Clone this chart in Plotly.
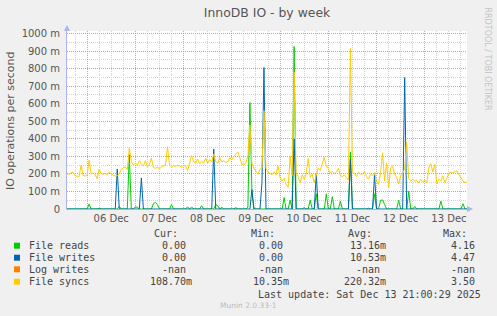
import plotly.graph_objects as go
import pandas as pd

# ---------------- data (milli-operations per second, hourly) ----------------
start_time = "2025-12-05 14:00"
end_time = "2025-12-13 21:00"
times = pd.date_range(start_time, end_time, freq="h")

file_syncs = [
    200, 198, 205, 210, 190, 188, 185, 250, 192, 188,
    190, 278, 200, 205, 195, 172, 228, 200, 198, 205,
    195, 210, 200, 192, 188, 190, 200, 225, 235, 240,
    225, 348, 270, 250, 262, 248, 275, 255, 245, 275,
    240, 255, 290, 235, 232, 238, 228, 240, 245, 250,
    355, 250, 240, 248, 242, 250, 245, 238, 250, 244,
    220, 262, 305, 268, 260, 285, 258, 270, 262, 290,
    262, 282, 268, 313, 270, 262, 292, 268, 275, 265,
    270, 292, 280, 300, 310, 325, 290, 255, 250, 265,
    300, 480, 260, 230, 215, 198, 225, 235, 560, 230,
    210, 200, 195, 210, 195, 245, 180, 160, 175, 140,
    123, 300, 190, 780, 200, 185, 150, 195, 170, 200,
    288, 180, 198, 150, 200, 235, 220, 263, 295, 245,
    230, 205, 215, 200, 210, 232, 190, 185, 195, 180,
    165, 914, 210, 200, 185, 210, 200, 198, 213, 185,
    170, 198, 190, 207, 160, 140, 207, 320, 160, 263,
    120, 235, 245, 200, 180, 142, 190, 200, 230, 380,
    175, 160, 170, 158, 162, 150, 170, 155, 165, 150,
    235, 258, 210, 254, 142, 170, 160, 189, 151, 175,
    205, 210, 205, 212, 217, 195, 175, 160, 150, 155,
]

file_reads = [
    0, 0, 0, 0, 0, 0, 0, 0, 0, 0,
    0, 28, 0, 0, 0, 0, 5, 0, 0, 0,
    0, 0, 0, 0, 0, 0, 15, 0, 0, 0,
    0, 310, 0, 0, 12, 10, 0, 0, 0, 0,
    0, 0, 0, 30, 38, 25, 0, 0, 0, 0,
    0, 0, 25, 0, 0, 0, 0, 0, 0, 0,
    12, 0, 12, 0, 0, 0, 0, 19, 0, 0,
    0, 0, 0, 0, 25, 18, 0, 10, 0, 0,
    0, 0, 0, 0, 8, 0, 0, 0, 0, 0,
    10, 606, 100, 0, 0, 0, 0, 0, 0, 0,
    0, 0, 0, 0, 0, 0, 0, 0, 65, 0,
    0, 50, 0, 926, 0, 0, 0, 0, 8, 0,
    0, 50, 0, 0, 86, 0, 0, 0, 0, 86,
    0, 0, 70, 0, 0, 0, 45, 0, 0, 0,
    0, 325, 0, 0, 0, 0, 0, 0, 0, 0,
    5, 0, 0, 86, 0, 0, 49, 52, 26, 0,
    0, 0, 0, 0, 0, 49, 0, 0, 0, 0,
    101, 0, 0, 15, 0, 0, 0, 0, 0, 0,
    0, 0, 0, 0, 0, 0, 45, 0, 0, 0,
    0, 0, 0, 0, 0, 0, 0, 30, 0, 0,
]

file_writes = [
    0, 0, 0, 0, 0, 0, 0, 0, 0, 0,
    0, 0, 0, 0, 0, 0, 0, 0, 0, 0,
    0, 0, 0, 0, 0, 228, 0, 0, 0, 0,
    0, 0, 0, 0, 0, 0, 0, 177, 0, 0,
    0, 0, 0, 0, 0, 0, 0, 0, 0, 0,
    0, 0, 0, 0, 0, 0, 0, 0, 0, 0,
    0, 0, 0, 0, 0, 0, 0, 0, 0, 0,
    0, 0, 0, 342, 0, 0, 0, 0, 0, 0,
    0, 0, 0, 0, 0, 0, 0, 0, 0, 0,
    0, 0, 110, 0, 0, 0, 0, 150, 806, 0,
    0, 0, 0, 0, 0, 0, 0, 0, 0, 0,
    0, 0, 0, 400, 0, 0, 0, 0, 0, 0,
    0, 0, 0, 0, 200, 0, 0, 0, 0, 0,
    0, 0, 0, 0, 0, 0, 0, 0, 0, 0,
    0, 282, 0, 0, 0, 0, 0, 0, 0, 0,
    0, 0, 0, 195, 0, 0, 0, 0, 0, 0,
    0, 0, 0, 0, 0, 0, 0, 0, 749, 0,
    0, 0, 0, 0, 0, 0, 0, 0, 0, 0,
    0, 0, 0, 0, 0, 0, 0, 0, 0, 0,
    0, 0, 0, 0, 0, 0, 0, 0, 0, 0,
]

log_writes = [float("nan")] * len(times)

series_names = ["File reads", "File writes", "Log writes", "File syncs"]
series_colors = ["#00CC00", "#0066B3", "#FF8000", "#FFCC00"]
series_values = [file_reads, file_writes, log_writes, file_syncs]

cur_vals = ["0.00", "0.00", "-nan", "108.70m"]
min_vals = ["0.00", "0.00", "-nan", "10.35m"]
avg_vals = ["13.16m", "10.53m", "-nan", "220.32m"]
max_vals = ["4.16", "4.47", "-nan", "3.50"]

y_ticks = [0, 100, 200, 300, 400, 500, 600, 700, 800, 900, 1000]
y_ticktext = ["0"] + [f"{v} m" for v in y_ticks[1:]]

title_text = "InnoDB IO - by week"
y_title = "IO operations per second"
last_update = "Last update: Sat Dec 13 21:00:29 2025"
version_text = "Munin 2.0.33-1"
side_text = "RRDTOOL / TOBI OETIKER"

# ---------------- geometry ----------------
W, H = 497, 316
L, R, T, B = 67, 30, 31, 107
PW = W - L - R
PH = H - T - B


def px(x):
    return (x - L) / PW


def py(y):
    return (H - B - y) / PH


fig = go.Figure()
for name, color, vals in zip(series_names, series_colors, series_values):
    fig.add_trace(go.Scatter(x=times, y=vals, mode="lines", name=name,
                             line=dict(color=color, width=1)))

red_grid = "rgba(240,120,120,0.75)"
gray_grid = "#D2D2D2"
axis_col = "#AAB4EE"
mono = "DejaVu Sans Mono"
txt_col = "#444444"

fig.update_layout(
    width=W, height=H,
    margin=dict(l=L, r=R, t=T, b=B, autoexpand=False),
    paper_bgcolor="#F0F0F0",
    plot_bgcolor="#FFFFFF",
    showlegend=False,
    title=dict(text=title_text, x=0.5, xanchor="center", xref="paper",
               y=1 - 13 / H, yanchor="middle",
               font=dict(family="DejaVu Sans", size=12.4, color="#555555")),
    xaxis=dict(
        type="date", range=[times[0], times[-1]],
        tick0="2025-12-06", dtick=86400000, tickformat="%d %b",
        ticklabelmode="period", ticks="",
        showgrid=True, gridcolor=red_grid, griddash="1px,1px", gridwidth=1,
        minor=dict(dtick=21600000, showgrid=True, gridcolor=gray_grid,
                   griddash="1px,1px", gridwidth=1),
        showline=True, linecolor=axis_col, linewidth=1, zeroline=False,
        tickfont=dict(family="DejaVu Sans", size=10, color="#555555"),
        automargin=False,
    ),
    yaxis=dict(
        range=[0, 1014], tickvals=y_ticks, ticktext=y_ticktext, ticks="",
        showgrid=True, gridcolor=red_grid, griddash="1px,1px", gridwidth=1,
        minor=dict(dtick=50, showgrid=True, gridcolor=gray_grid,
                   griddash="1px,1px", gridwidth=1),
        showline=True, linecolor=axis_col, linewidth=1, zeroline=False,
        tickfont=dict(family="DejaVu Sans", size=10, color="#555555"),
        ticklabelstandoff=4,
        automargin=False,
    ),
)

ann = []
# y axis title
ann.append(dict(text=y_title, x=px(10), y=py(121), xref="paper", yref="paper",
                textangle=-90, showarrow=False, xanchor="center", yanchor="middle",
                font=dict(family="DejaVu Sans", size=11, color="#555555")))
# side text
ann.append(dict(text=side_text, x=px(487), y=py(5), xref="paper", yref="paper",
                textangle=90, showarrow=False, xanchor="center", yanchor="top",
                font=dict(family="DejaVu Sans", size=8, color="#C4C4C4")))

# legend table
header_y = 233.3
row_ys = [245.7, 257.7, 269.3, 281.7]
col_right = [194, 290.5, 387.5, 483.3]
headers = ["Cur:", "Min:", "Avg:", "Max:"]
for hdr, cr in zip(headers, col_right):
    ann.append(dict(text=hdr, x=px(cr - 14), y=py(header_y), xref="paper", yref="paper",
                    showarrow=False, xanchor="right", yanchor="middle",
                    font=dict(family=mono, size=10, color=txt_col)))

shapes = []
cols = [cur_vals, min_vals, avg_vals, max_vals]
for i, (name, color) in enumerate(zip(series_names, series_colors)):
    ry = row_ys[i]
    shapes.append(dict(type="rect", xref="paper", yref="paper",
                       x0=px(14), x1=px(20), y0=py(ry + 3), y1=py(ry - 3),
                       fillcolor=color, line=dict(width=0)))
    ann.append(dict(text=name, x=px(26.7), y=py(ry), xref="paper", yref="paper",
                    showarrow=False, xanchor="left", yanchor="middle",
                    font=dict(family=mono, size=10, color=txt_col)))
    for col, cr in zip(cols, col_right):
        s = col[i]
        right = cr if s.endswith("m") else cr - 6
        ann.append(dict(text=s, x=px(right), y=py(ry), xref="paper", yref="paper",
                        showarrow=False, xanchor="right", yanchor="middle",
                        font=dict(family=mono, size=10, color=txt_col)))

ann.append(dict(text=last_update, x=px(483.3), y=py(294.3), xref="paper", yref="paper",
                showarrow=False, xanchor="right", yanchor="middle",
                font=dict(family=mono, size=10, color=txt_col)))
ann.append(dict(text=version_text, x=px(248), y=py(305), xref="paper", yref="paper",
                showarrow=False, xanchor="center", yanchor="middle",
                font=dict(family="DejaVu Sans", size=7.5, color="#BBBBBB")))

# axis arrows
shapes.append(dict(type="path", xref="paper", yref="paper",
                   path=f"M {px(64)} {py(31)} L {px(70)} {py(31)} L {px(67)} {py(25)} Z",
                   fillcolor=axis_col, line=dict(width=0)))
shapes.append(dict(type="path", xref="paper", yref="paper",
                   path=f"M {px(467)} {py(206)} L {px(467)} {py(212)} L {px(473)} {py(209)} Z",
                   fillcolor=axis_col, line=dict(width=0)))

fig.update_layout(annotations=ann, shapes=shapes)
fig.write_html("out.html")
